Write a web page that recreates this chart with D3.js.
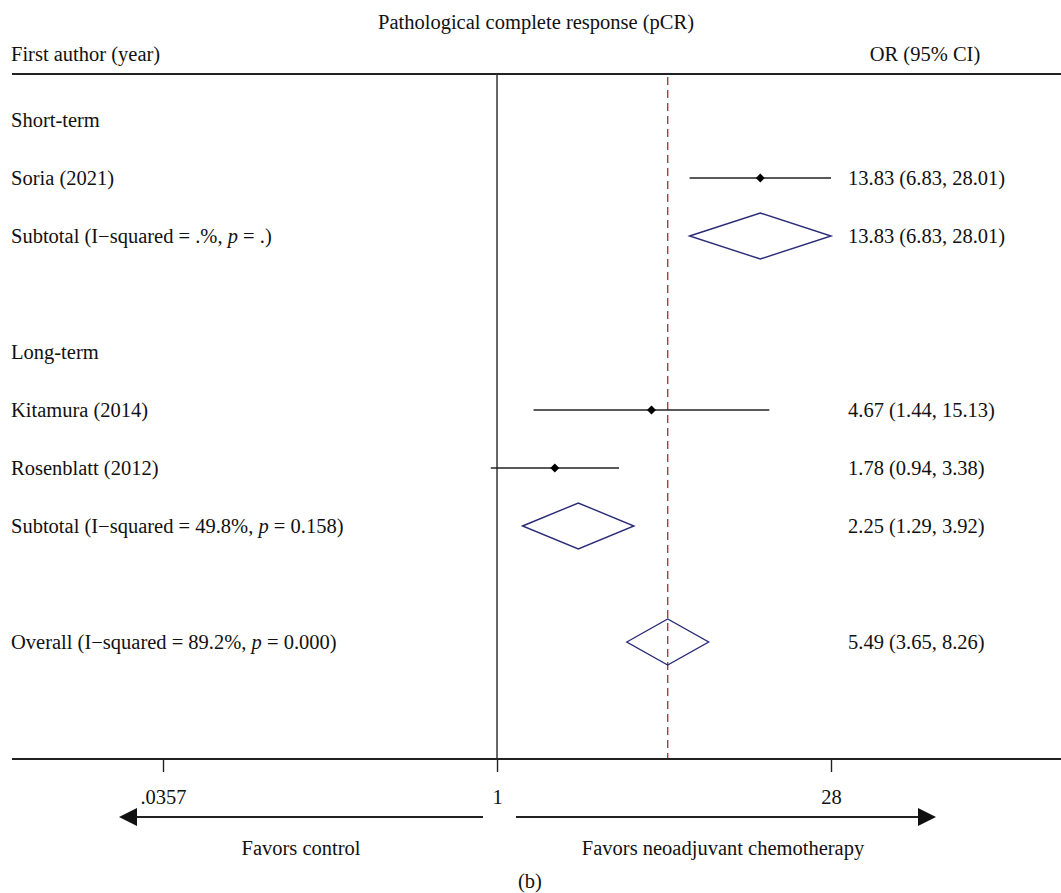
<!DOCTYPE html>
<html><head><meta charset="utf-8">
<script src="https://cdn.jsdelivr.net/npm/d3@7"></script>
<style>
html,body{margin:0;padding:0;background:#fff;}
text{font-family:"Liberation Serif","DejaVu Serif",serif;fill:#111;}
</style></head>
<body>
<svg id="c" width="1061" height="893"></svg>
<script>
// ---- data ----
const rowLabels = ["Short-term","Soria (2021)","Subtotal (I\u2212squared = .%, p = .)","","Long-term","Kitamura (2014)","Rosenblatt (2012)","Subtotal (I\u2212squared = 49.8%, p = 0.158)","","Overall (I\u2212squared = 89.2%, p = 0.000)"];
const rowTypes  = ["group","study","sub","blank","group","study","study","sub","blank","sub"];
const orValues  = [null,13.83,13.83,null,null,4.67,1.78,2.25,null,5.49];
const lowerCI   = [null,6.83,6.83,null,null,1.44,0.94,1.29,null,3.65];
const upperCI   = [null,28.01,28.01,null,null,15.13,3.38,3.92,null,8.26];
const ciLabels  = ["","13.83 (6.83, 28.01)","13.83 (6.83, 28.01)","","","4.67 (1.44, 15.13)","1.78 (0.94, 3.38)","2.25 (1.29, 3.92)","","5.49 (3.65, 8.26)"];
const tickValues = [0.0357, 1, 28];
const tickLabels = [".0357", "1", "28"];
const overallOR = 5.49;

(function(){
const svg = d3.select("#c");
const x = d3.scaleLog().domain([0.0357, 28]).range([163, 831]);
const y = d3.scaleLinear().domain([0, 9]).range([120, 642]);
const topY = 74, axisY = 759;
const fs = 20.5;

// title & header
svg.append("text").attr("x", 536).attr("y", 29).attr("text-anchor","middle").attr("font-size",fs).text("Pathological complete response (pCR)");
svg.append("text").attr("x", 11).attr("y", 61).attr("font-size",fs).text("First author (year)");
svg.append("text").attr("x", 925).attr("y", 61).attr("text-anchor","middle").attr("font-size",fs).text("OR (95% CI)");
svg.append("line").attr("x1",12).attr("x2",1061).attr("y1",topY).attr("y2",topY).attr("stroke","#222").attr("stroke-width",2);

// null line and overall dashed line
svg.append("line").attr("x1",x(1)).attr("x2",x(1)).attr("y1",topY).attr("y2",axisY).attr("stroke","#333").attr("stroke-width",1.5);
svg.append("line").attr("x1",x(overallOR)).attr("x2",x(overallOR)).attr("y1",topY+3).attr("y2",axisY)
  .attr("stroke","#b0384a").attr("stroke-width",1.4).attr("stroke-dasharray","8,5");

// rows
const rows = rowLabels.map((l,i)=>({l,i,t:rowTypes[i],or:orValues[i],lo:lowerCI[i],hi:upperCI[i],ci:ciLabels[i]}));
const g = svg.append("g");
rows.filter(r=>r.t!=="blank").forEach(r=>{
  const yy = y(r.i);
  const t = g.append("text").attr("x",11).attr("y",yy+7).attr("font-size",fs);
  const m = r.l.match(/^(.*)(p)( = .*)$/);
  if (m) {
    t.append("tspan").text(m[1]);
    t.append("tspan").attr("font-style","italic").text(m[2]);
    t.append("tspan").text(m[3]);
  } else t.text(r.l);
  if (r.ci) g.append("text").attr("x",848).attr("y",yy+7).attr("font-size",fs).text(r.ci);
  if (r.t==="study") {
    g.append("line").attr("x1",x(r.lo)).attr("x2",x(r.hi)).attr("y1",yy).attr("y2",yy).attr("stroke","#222").attr("stroke-width",1.4);
    const cx = x(r.or), s=4.5;
    g.append("path").attr("d",`M${cx-s},${yy}L${cx},${yy-s}L${cx+s},${yy}L${cx},${yy+s}Z`).attr("fill","#000");
  } else if (r.t==="sub") {
    const h = 23;
    g.append("path").attr("d",`M${x(r.lo)},${yy}L${x(r.or)},${yy-h}L${x(r.hi)},${yy}L${x(r.or)},${yy+h}Z`)
      .attr("fill","none").attr("stroke","#2b2b78").attr("stroke-width",1.4);
  }
});

// axis
svg.append("line").attr("x1",12).attr("x2",1061).attr("y1",axisY).attr("y2",axisY).attr("stroke","#222").attr("stroke-width",2);
const axis = d3.axisBottom(x).tickValues(tickValues).tickFormat((d,i)=>tickLabels[i]).tickSize(13).tickPadding(17);
const ag = svg.append("g").attr("transform",`translate(0,${axisY})`).call(axis);
ag.select(".domain").remove();
ag.selectAll(".tick line").attr("stroke","#222").attr("stroke-width",1.4);
ag.selectAll(".tick text").attr("font-size",fs).attr("font-family","Liberation Serif, serif").attr("fill","#111");

// arrows
const arrY = 817;
svg.append("line").attr("x1",483).attr("x2",134).attr("y1",arrY).attr("y2",arrY).attr("stroke","#222").attr("stroke-width",2);
svg.append("path").attr("d",`M119,${arrY}L137,${arrY-9}L137,${arrY+9}Z`).attr("fill","#111");
svg.append("line").attr("x1",516).attr("x2",920).attr("y1",arrY).attr("y2",arrY).attr("stroke","#222").attr("stroke-width",2);
svg.append("path").attr("d",`M936,${arrY}L918,${arrY-9}L918,${arrY+9}Z`).attr("fill","#111");
svg.append("text").attr("x",301).attr("y",855).attr("text-anchor","middle").attr("font-size",fs).text("Favors control");
svg.append("text").attr("x",723).attr("y",855).attr("text-anchor","middle").attr("font-size",fs).text("Favors neoadjuvant chemotherapy");
svg.append("text").attr("x",530).attr("y",888).attr("text-anchor","middle").attr("font-size",fs).text("(b)");
})();
</script>
</body></html>
